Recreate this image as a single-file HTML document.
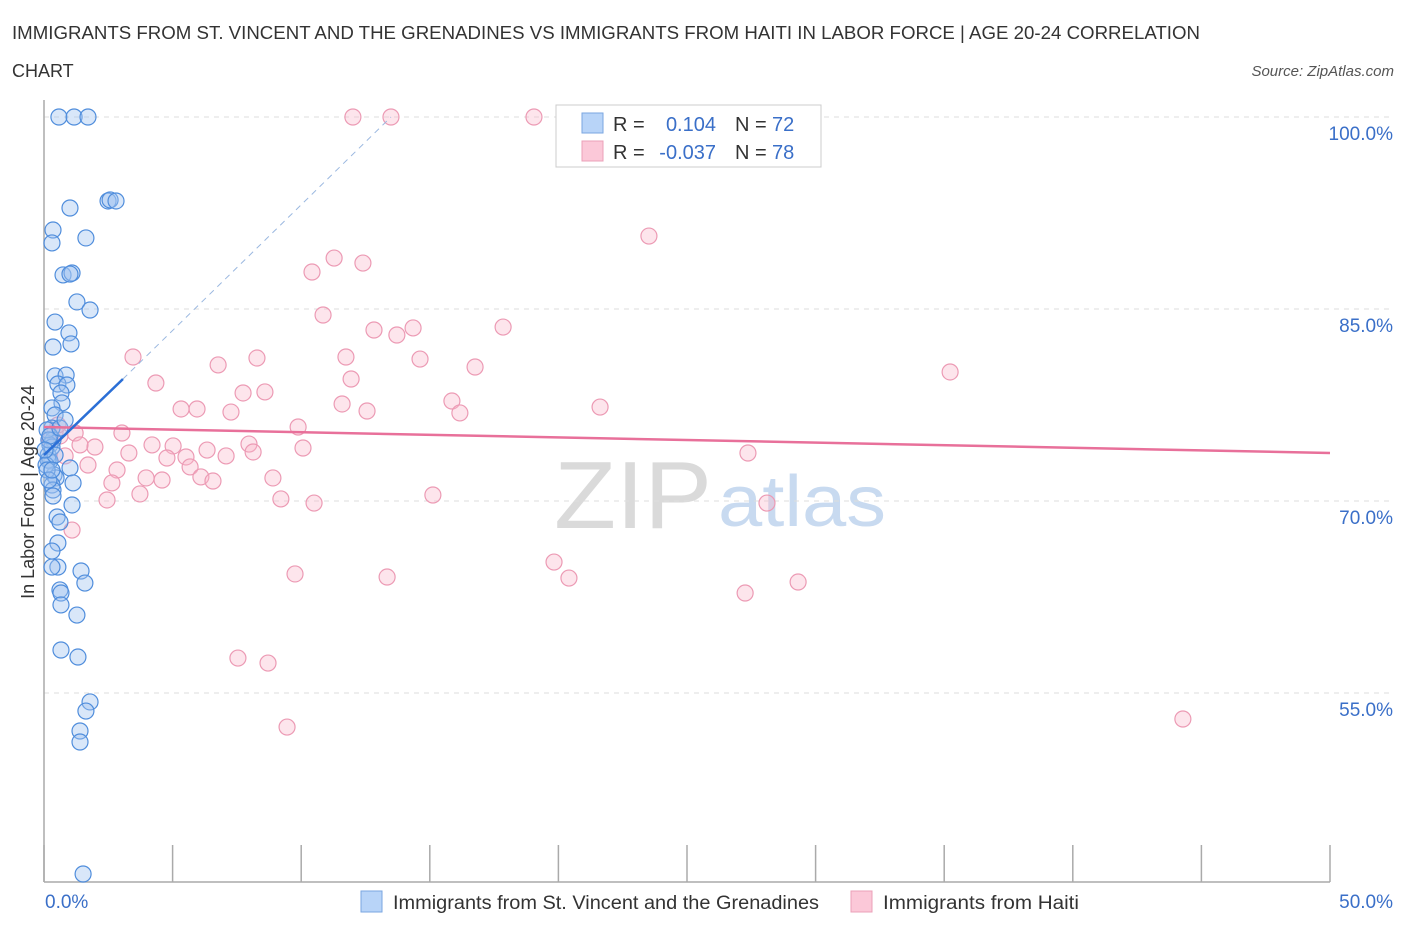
<!DOCTYPE html>
<html><head><meta charset="utf-8"><style>
body{margin:0;background:#fff;font-family:"Liberation Sans",sans-serif;}
svg text{font-family:"Liberation Sans",sans-serif;}
</style></head><body>
<svg id="chart" width="1406" height="930" xmlns="http://www.w3.org/2000/svg">
<text x="12" y="39" font-size="18" fill="#333" textLength="1188" lengthAdjust="spacingAndGlyphs">IMMIGRANTS FROM ST. VINCENT AND THE GRENADINES VS IMMIGRANTS FROM HAITI IN LABOR FORCE | AGE 20-24 CORRELATION</text>
<text x="12" y="77" font-size="18" fill="#333">CHART</text>
<text x="1394" y="76" font-size="15" fill="#555" font-style="italic" text-anchor="end">Source: ZipAtlas.com</text>
<text x="712" y="528" font-size="96" fill="#dadada" text-anchor="end" font-family="Liberation Serif" textLength="158" lengthAdjust="spacingAndGlyphs">ZIP</text>
<text x="718" y="526" font-size="72" fill="#c8daf0" textLength="168" lengthAdjust="spacingAndGlyphs">atlas</text>
<g id="grid"></g>
<g id="axes"></g>
<g id="marks"></g>
<text transform="translate(34,492) rotate(-90)" font-size="18" fill="#333" text-anchor="middle">In Labor Force | Age 20-24</text>
<g>
<rect x="556" y="105" width="265" height="62" fill="#fff" stroke="#ccc"/>
<rect x="582" y="113" width="21" height="20" fill="#b8d4f8" stroke="#7aa6e0"/>
<rect x="582" y="141" width="21" height="20" fill="#fbc8d8" stroke="#eba0b8"/>
<text x="613" y="131" font-size="20" fill="#333">R =</text>
<text x="716" y="131" font-size="20" fill="#3a6fc8" text-anchor="end">0.104</text>
<text x="735" y="131" font-size="20" fill="#333">N =</text><text x="772" y="131" font-size="20" fill="#3a6fc8">72</text>
<text x="613" y="159" font-size="20" fill="#333">R =</text>
<text x="716" y="159" font-size="20" fill="#3a6fc8" text-anchor="end">-0.037</text>
<text x="735" y="159" font-size="20" fill="#333">N =</text><text x="772" y="159" font-size="20" fill="#3a6fc8">78</text>
</g>
<g>
<rect x="361" y="891" width="21" height="21" fill="#b8d4f8" stroke="#7aa6e0"/>
<text x="393" y="909" font-size="19" fill="#333" textLength="426" lengthAdjust="spacingAndGlyphs">Immigrants from St. Vincent and the Grenadines</text>
<rect x="851" y="891" width="21" height="21" fill="#fbc8d8" stroke="#eba0b8"/>
<text x="883" y="909" font-size="19" fill="#333" textLength="196" lengthAdjust="spacingAndGlyphs">Immigrants from Haiti</text>
</g>
</svg>
<script>
const blueX=[0.58,1.17,1.71,2.49,2.57,2.80,1.01,0.35,0.31,1.63,0.74,1.09,1.01,1.28,1.79,0.43,0.97,0.35,1.05,0.43,0.86,0.54,0.89,0.66,0.70,0.31,0.43,0.31,0.35,0.23,0.16,0.23,0.31,0.12,0.39,1.01,0.47,1.13,0.31,0.35,0.35,1.09,0.51,0.62,0.54,0.31,0.54,0.31,1.44,1.59,0.62,0.66,0.66,1.28,0.66,1.32,1.79,1.63,1.40,1.40,1.52,0.16,0.08,0.19,0.12,0.43,0.23,0.62,0.82,0.19,0.04,0.31];
const blueY=[100,100,100,93.44,93.52,93.44,92.89,91.17,90.16,90.55,87.66,87.81,87.73,85.55,84.92,83.98,83.13,82.03,82.27,79.77,79.84,79.14,79.06,78.44,77.66,77.27,76.72,75.70,74.77,74.38,73.59,73.13,74.22,75.55,72.03,72.58,71.80,71.41,71.25,70.86,70.39,69.69,68.75,68.36,66.72,66.09,64.84,64.84,64.53,63.59,63.05,62.81,61.88,61.09,58.36,57.81,54.30,53.59,52.03,51.17,40.86,73.20,72.81,74.77,72.42,73.59,75.08,75.70,76.33,71.64,73.98,72.42];
const pinkX=[12.01,13.49,19.05,23.52,11.28,12.40,10.42,10.85,12.83,13.72,14.35,17.85,3.46,6.77,8.28,11.74,11.94,14.62,16.76,4.35,7.74,8.59,35.23,11.59,12.56,15.86,16.17,21.62,5.33,5.95,7.27,9.88,3.03,1.21,1.98,4.20,5.02,3.30,6.34,7.08,7.97,8.13,10.07,5.52,4.78,5.68,2.84,1.71,3.97,4.59,6.10,6.57,8.90,2.64,3.73,2.45,9.21,10.50,15.12,27.37,28.11,1.09,19.83,20.41,13.34,9.76,29.32,27.26,7.54,8.71,9.45,44.28,0.23,0.43,0.62,0.82,0.54,1.40];
const pinkY=[100,100,100,90.70,88.98,88.59,87.89,84.53,83.36,82.97,83.52,83.59,81.25,80.63,81.17,81.25,79.53,81.09,80.47,79.22,78.44,78.52,80.08,77.58,77.03,77.81,76.88,77.34,77.19,77.19,76.95,75.78,75.31,75.31,74.22,74.38,74.30,73.75,73.98,73.52,74.45,73.83,74.14,73.44,73.36,72.66,72.42,72.81,71.80,71.64,71.88,71.56,71.80,71.41,70.55,70.08,70.16,69.84,70.47,73.75,69.84,67.73,65.23,63.98,64.06,64.30,63.67,62.81,57.73,57.34,52.34,52.97,74.77,75.39,75.08,73.52,75.94,74.38];
const yTicks=[55,70,85,100];
const yTickLabels=["55.0%","70.0%","85.0%","100.0%"];
const xTicks=[0,5,10,15,20,25,30,35,40,45,50];
const blueTrend=[[0,73.59],[3.07,79.53],[13.49,100]];
const pinkTrend=[[0,75.78],[50,73.75]];
const NS="http://www.w3.org/2000/svg";
const X=v=>44+v*25.72, Y=v=>117+(100-v)*12.8;
function mk(tag,attrs,parent){const e=document.createElementNS(NS,tag);for(const k in attrs)e.setAttribute(k,attrs[k]);parent.appendChild(e);return e;}
const grid=document.getElementById('grid'),axes=document.getElementById('axes'),marks=document.getElementById('marks');
yTicks.forEach((t,i)=>{
 const l=mk('line',{x1:44,x2:1394,y1:Y(t),y2:Y(t),stroke:'#ddd','stroke-dasharray':'5,5'},grid);
 
 
 const tx=mk('text',{x:1393,y:Y(t)+23,'font-size':19,fill:'#3a6fc8','text-anchor':'end'},axes);
 tx.textContent=yTickLabels[i];
 
 
});
const ya=mk('line',{x1:44,x2:44,y1:100,y2:882,stroke:'#aaa','stroke-width':1.5},axes);


const xa=mk('line',{x1:44,x2:1330,y1:882,y2:882,stroke:'#aaa','stroke-width':1.5},axes);


xTicks.forEach(t=>{
 const l=mk('line',{x1:X(t),x2:X(t),y1:845,y2:882,stroke:'#aaa','stroke-width':1.5},axes);
 
 
});
const xl0=mk('text',{x:45,y:908,'font-size':19,fill:'#3a6fc8'},axes);xl0.textContent=xTicks[0].toFixed(1)+'%';


const xl1=mk('text',{x:1393,y:908,'font-size':19,fill:'#3a6fc8','text-anchor':'end'},axes);xl1.textContent=xTicks[xTicks.length-1].toFixed(1)+'%';


pinkX.forEach((v,i)=>{
 const c=mk('circle',{cx:X(v),cy:Y(pinkY[i]),r:8,fill:'rgba(248,180,200,0.35)',stroke:'#ec9ab4','stroke-width':1.2},marks);
 
 
});
blueX.forEach((v,i)=>{
 const c=mk('circle',{cx:X(v),cy:Y(blueY[i]),r:8,fill:'rgba(160,196,240,0.4)',stroke:'#4f8ddc','stroke-width':1.2},marks);
 
 
});
const pt=mk('line',{x1:X(pinkTrend[0][0]),y1:Y(pinkTrend[0][1]),x2:X(pinkTrend[1][0]),y2:Y(pinkTrend[1][1]),stroke:'#e8709a','stroke-width':2.5},marks);


const bt=mk('line',{x1:X(blueTrend[0][0]),y1:Y(blueTrend[0][1]),x2:X(blueTrend[1][0]),y2:Y(blueTrend[1][1]),stroke:'#2b6fd6','stroke-width':2.5},marks);


const bd=mk('line',{x1:X(blueTrend[1][0]),y1:Y(blueTrend[1][1]),x2:X(blueTrend[2][0]),y2:Y(blueTrend[2][1]),stroke:'#9bb8e0','stroke-width':1,'stroke-dasharray':'6,5'},marks);


</script>
</body></html>
